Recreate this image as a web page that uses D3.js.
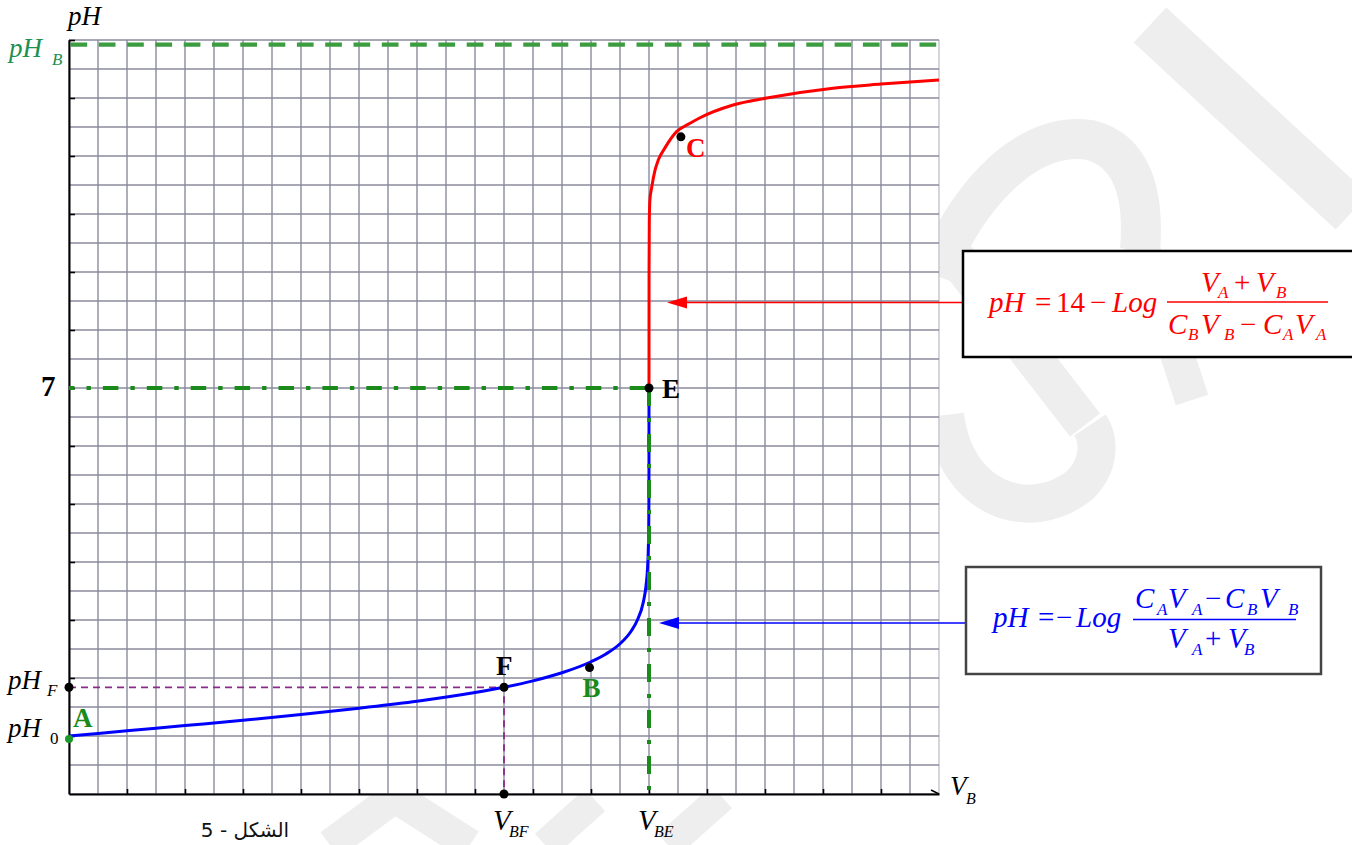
<!DOCTYPE html>
<html>
<head>
<meta charset="utf-8">
<script src="https://cdn.jsdelivr.net/npm/d3@7"></script>
<style>
  html, body { margin: 0; padding: 0; background: #fff; }
  svg { display: block; }
</style>
</head>
<body>
<svg id="chart" width="1352" height="845"></svg>
<script>
// Titration of a strong acid (C_A, V_A) by a strong base: pH = f(V_B)

// Acid side of the curve (before equivalence)
const blueVB = [0, 2, 4, 6, 8, 10, 12, 14, 15, 16, 17, 18, 18.5, 19, 19.4, 19.6, 19.8, 19.9, 19.95, 19.98, 19.99, 19.995, 19.999, 20];
const bluePH = [1.00, 1.09, 1.18, 1.27, 1.37, 1.48, 1.60, 1.75, 1.84, 1.95, 2.09, 2.28, 2.41, 2.59, 2.82, 3.00, 3.30, 3.60, 3.90, 4.30, 4.60, 4.90, 5.60, 7.00];

// Base side of the curve (after equivalence)
const redVB = [20, 20.002, 20.01, 20.03, 20.09, 20.21, 20.32, 20.55, 20.95, 21.4, 21.76, 22.9, 24.06, 26.34, 28, 30];
const redPH = [7, 9.0, 9.85, 10.24, 10.45, 10.76, 10.93, 11.14, 11.42, 11.56, 11.66, 11.88, 12.0, 12.17, 12.24, 12.31];

// Named points on the curve
const pointNames = ["A", "F", "B", "E", "C"];
const pointVB = [0, 15, 17.95, 20, 21.1];
const pointPH = [0.95, 1.84, 2.18, 7, 11.33];

// Reference values
const VBE = 20, VBF = 15, pHE = 7, pHF = 1.84, pH0 = 1.0, pHB = 12.92;

// Axis extents and tick values
const xDomain = [0, 30];
const yDomain = [0, 13];
const xTickValues = d3.range(2, 30, 2);
const yTickValues = d3.range(1, 14, 1);

const svg = d3.select("#chart");
const W = 1352, H = 845;
const x = d3.scaleLinear().domain(xDomain).range([69, 939]);
const y = d3.scaleLinear().domain(yDomain).range([794, 40]);

const SERIF = "'Liberation Serif','Times New Roman',serif";

svg.append("rect").attr("width", W).attr("height", H).attr("fill", "#fff");

// ---- faint background watermark strokes ----
const wm = svg.append("g").attr("fill", "none").attr("stroke", "#eeeeee").attr("stroke-linecap", "butt").attr("stroke-linejoin", "round");
[
  ["M1150,25 L1352,212", 48],
  ["M935,275 C970,190 1030,130 1090,140 C1130,150 1145,190 1140,250", 40],
  ["M950,250 L1085,425", 38],
  ["M945,415 C955,500 1030,525 1080,485 C1100,465 1100,440 1090,425", 38],
  ["M1140,240 L1192,400", 34],
  ["M330,845 L395,797 L470,845", 32],
  ["M545,845 L595,800", 30],
  ["M668,845 L722,797", 30]
].forEach(([d, w]) => wm.append("path").attr("d", d).attr("stroke-width", w));

// plot background
svg.append("rect").attr("x", x(0)).attr("y", y(13)).attr("width", x(30) - x(0)).attr("height", y(0) - y(13)).attr("fill", "#fff");

// ---- grid ----
const grid = svg.append("g");
d3.range(xDomain[0], xDomain[1] + 0.5, 1).forEach(v => {
  grid.append("line").attr("x1", x(v)).attr("x2", x(v)).attr("y1", y(0)).attr("y2", y(13))
    .attr("stroke", v === 30 ? "#c4c4cc" : "#8a8a9e").attr("stroke-width", 1.4);
});
d3.range(yDomain[0], yDomain[1] + 0.25, 0.5).forEach(v => {
  grid.append("line").attr("x1", x(0)).attr("x2", x(30)).attr("y1", y(v)).attr("y2", y(v))
    .attr("stroke", "#8a8a9e").attr("stroke-width", 1.4);
});

// ---- axes ----
const xAxis = d3.axisBottom(x).tickValues(xTickValues).tickSize(-5).tickSizeOuter(0).tickFormat("");
const yAxis = d3.axisLeft(y).tickValues(yTickValues).tickSize(-6).tickSizeOuter(0).tickFormat("");
const gx = svg.append("g").attr("transform", `translate(0,${y(0)})`).call(xAxis);
const gy = svg.append("g").attr("transform", `translate(${x(0)},0)`).call(yAxis);
[gx, gy].forEach(g => {
  g.select(".domain").attr("stroke", "#000").attr("stroke-width", 2);
  g.selectAll(".tick line").attr("stroke", "#000").attr("stroke-width", 1.6);
});
svg.append("line").attr("x1", x(30)).attr("y1", y(0)).attr("x2", x(30) - 8).attr("y2", y(0) - 4)
  .attr("stroke", "#000").attr("stroke-width", 1.5);

// ---- reference lines ----
// limit pH of the base
svg.append("line").attr("x1", x(0) + 1.5).attr("x2", x(30)).attr("y1", y(pHB)).attr("y2", y(pHB))
  .attr("stroke", "#3c9c40").attr("stroke-width", 4.3).attr("stroke-dasharray", "16.7,11.6");

// half-way point F projections
svg.append("path")
  .attr("d", `M${x(0)},${y(pHF)} L${x(VBF)},${y(pHF)} L${x(VBF)},${y(0)}`)
  .attr("fill", "none").attr("stroke", "#8a2a8a").attr("stroke-width", 1.8).attr("stroke-dasharray", "7,5");

// ---- curves ----
const line = d3.line().x(d => x(d[0])).y(d => y(d[1])).curve(d3.curveMonotoneX);
svg.append("path").datum(blueVB.map((v, i) => [v, bluePH[i]]))
  .attr("d", line).attr("fill", "none").attr("stroke", "#0000ff").attr("stroke-width", 3);
svg.append("path").datum(redVB.map((v, i) => [v, redPH[i]]))
  .attr("d", line).attr("fill", "none").attr("stroke", "#ff0000").attr("stroke-width", 3);

// equivalence point projections (dash-dot)
svg.append("line").attr("x1", x(0)).attr("x2", x(VBE)).attr("y1", y(pHE)).attr("y2", y(pHE))
  .attr("stroke", "#1a8a1a").attr("stroke-width", 4).attr("stroke-dasharray", "15.5,12,4.4,12").attr("stroke-dashoffset", 10);
svg.append("line").attr("x1", x(VBE)).attr("x2", x(VBE)).attr("y1", y(pHE)).attr("y2", y(0))
  .attr("stroke", "#1a8a1a").attr("stroke-width", 4).attr("stroke-dasharray", "18,12,4,12");

// ---- points ----
const dots = svg.append("g");
pointNames.forEach((n, i) => {
  dots.append("circle").attr("cx", x(pointVB[i])).attr("cy", y(pointPH[i])).attr("r", n === "A" ? 4 : 4.5)
    .attr("fill", n === "A" ? "#1a9a2a" : "#000");
});
dots.append("circle").attr("cx", x(0)).attr("cy", y(pHF)).attr("r", 4.5).attr("fill", "#000");
dots.append("circle").attr("cx", x(VBF)).attr("cy", y(0)).attr("r", 4.5).attr("fill", "#000");

// ---- text helpers ----
function txt(s, px, py, size, o = {}) {
  return svg.append("text").attr("x", px).attr("y", py).text(s)
    .attr("font-family", o.family || SERIF).attr("font-size", size)
    .attr("font-style", o.italic ? "italic" : "normal")
    .attr("font-weight", o.bold ? "bold" : "normal")
    .attr("fill", o.color || "#000")
    .attr("text-anchor", o.anchor || "start");
}
// symbol with a subscript, as one text element
function subTxt(base, sub, px, py, size, subX, subDy, subSize, o = {}) {
  const t = svg.append("text").attr("x", px).attr("y", py)
    .attr("font-family", SERIF).attr("font-size", size).attr("font-style", "italic")
    .attr("fill", o.color || "#000");
  t.append("tspan").text(base);
  t.append("tspan").attr("x", subX).attr("dy", subDy).attr("font-size", subSize)
    .attr("font-style", o.subUpright ? "normal" : "italic").text(sub);
  return t;
}

// point letters
const letterStyle = {
  A: { dx: 4, dy: -12, color: "#1a8a1a" },
  F: { dx: -8, dy: -12, color: "#000" },
  B: { dx: -7, dy: 29, color: "#1a8a1a" },
  E: { dx: 13, dy: 10, color: "#000" },
  C: { dx: 5, dy: 20, color: "#ff0000" }
};
pointNames.forEach((n, i) => {
  const s = letterStyle[n];
  txt(n, x(pointVB[i]) + s.dx, y(pointPH[i]) + s.dy, 27, { bold: true, color: s.color });
});

// axis labels
txt("pH", 68, 25, 27, { italic: true });
subTxt("pH", "B", 9, 57, 27, 52, 8, 17, { color: "#1e9050" });
txt("7", 41, 396, 29, { bold: true });
subTxt("pH", "F", 8, 689, 27, 47, 7, 17);
subTxt("pH", "0", 8, 737, 27, 50, 7, 17, { subUpright: true });
subTxt("V", "BF", 493, 830, 29, 509, 7, 16);
subTxt("V", "BE", 638, 830, 29, 654, 7, 16);
subTxt("V", "B", 950, 795, 27, 966, 9, 16);

// figure caption
txt("الشكل - 5", 245, 837, 20, { family: "'DejaVu Sans', sans-serif", anchor: "middle", color: "#111" });

// ---- formula boxes ----
function arrow(x1, x2, yy, color) {
  svg.append("line").attr("x1", x1).attr("x2", x2 + 16).attr("y1", yy).attr("y2", yy)
    .attr("stroke", color).attr("stroke-width", 1.6);
  svg.append("path").attr("d", `M${x2},${yy} L${x2 + 20},${yy - 6} L${x2 + 20},${yy + 6} Z`).attr("fill", color);
}
arrow(963, 667, 302.5, "#ff0000");
arrow(966, 659, 623, "#0000ff");

svg.append("rect").attr("x", 963).attr("y", 251).attr("width", 420).attr("height", 106)
  .attr("fill", "#fff").attr("stroke", "#000").attr("stroke-width", 2.5);
svg.append("rect").attr("x", 966).attr("y", 567).attr("width", 355).attr("height", 107)
  .attr("fill", "#fff").attr("stroke", "#444").attr("stroke-width", 2.5);

function formula(pieces, color) {
  pieces.forEach(([s, px, py, sz, it]) => txt(s, px, py, sz, { italic: it, color }));
}
const M = 29, S = 17;
// red: pH = 14 - Log (V_A + V_B)/(C_B V_B - C_A V_A)
formula([
  ["pH", 989, 312, M, true], ["=", 1035, 312, M, false], ["14", 1056, 312, M, false],
  ["\u2212", 1090, 312, M, false], ["Log", 1112, 312, M, true],
  ["V", 1201, 292, M, true], ["A", 1218, 298, S, true], ["+", 1234, 292, M, false],
  ["V", 1256, 292, M, true], ["B", 1276, 298, S, true],
  ["C", 1168, 334, M, true], ["B", 1188, 340, S, true], ["V", 1201, 334, M, true], ["B", 1224, 340, S, true],
  ["\u2212", 1240, 334, M, false], ["C", 1263, 334, M, true], ["A", 1283, 340, S, true],
  ["V", 1295, 334, M, true], ["A", 1316, 340, S, true]
], "#ff0000");
svg.append("line").attr("x1", 1167).attr("x2", 1328).attr("y1", 302).attr("y2", 302).attr("stroke", "#ff0000").attr("stroke-width", 1.6);

// blue: pH = -Log (C_A V_A - C_B V_B)/(V_A + V_B)
formula([
  ["pH", 993, 627, M, true], ["=", 1038, 627, M, false], ["\u2212", 1056, 627, M, false],
  ["Log", 1076, 627, M, true],
  ["C", 1135, 608, M, true], ["A", 1157, 615, S, true], ["V", 1168, 608, M, true], ["A", 1192, 615, S, true],
  ["\u2212", 1205, 608, M, false], ["C", 1225, 608, M, true], ["B", 1247, 615, S, true],
  ["V", 1260, 608, M, true], ["B", 1288, 615, S, true],
  ["V", 1168, 648, M, true], ["A", 1192, 655, S, true], ["+", 1205, 648, M, false],
  ["V", 1228, 648, M, true], ["B", 1244, 655, S, true]
], "#0000ff");
svg.append("line").attr("x1", 1133).attr("x2", 1296).attr("y1", 619.5).attr("y2", 619.5).attr("stroke", "#0000ff").attr("stroke-width", 1.6);
</script>
</body>
</html>
